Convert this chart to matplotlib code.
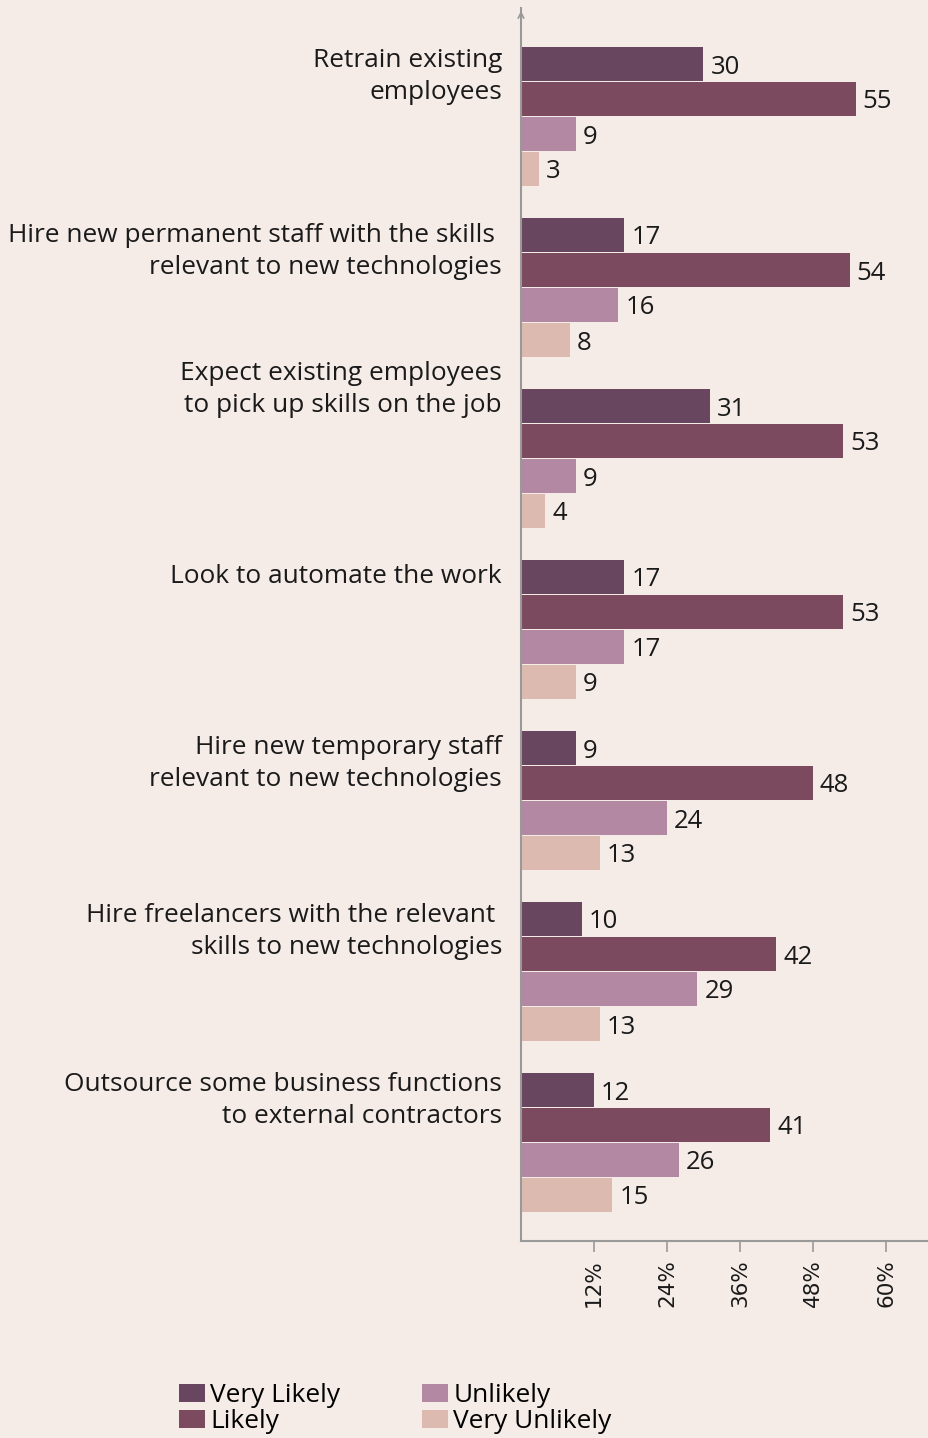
import matplotlib
matplotlib.use("Agg")
import matplotlib.pyplot as plt
import numpy as np
from matplotlib.patches import Patch

categories = [
    "Retrain existing\nemployees",
    "Hire new permanent staff with the skills \nrelevant to new technologies",
    "Expect existing employees\nto pick up skills on the job",
    "Look to automate the work",
    "Hire new temporary staff\nrelevant to new technologies",
    "Hire freelancers with the relevant \nskills to new technologies",
    "Outsource some business functions\nto external contractors",
]
series_names = ["Very Likely", "Likely", "Unlikely", "Very Unlikely"]
very_likely = [30, 17, 31, 17, 9, 10, 12]
likely = [55, 54, 53, 53, 48, 42, 41]
unlikely = [9, 16, 9, 17, 24, 29, 26]
very_unlikely = [3, 8, 4, 9, 13, 13, 15]
xticks = [12, 24, 36, 48, 60]
xtick_labels = ["12%", "24%", "36%", "48%", "60%"]

colors = ["#68465f", "#7b4a5f", "#b388a2", "#dcbab0"]
bg = "#f5ece8"
LABEL_FONT = ["Open Sans", "DejaVu Sans"]
TXT = "#1a1a1a"

W, H = 929, 1438
fig = plt.figure(figsize=(W / 100, H / 100), dpi=100, facecolor=bg)
ax_left, ax_right, ax_top, ax_bot = 521, 929, 8, 1241
ax = fig.add_axes([ax_left / W, (H - ax_bot) / H, (ax_right - ax_left) / W, (ax_bot - ax_top) / H])
ax.set_facecolor(bg)

px_per_pct = 73 / 12.0
ax.set_xlim(0, (ax_right - ax_left) / px_per_pct)
unit = 35.0
ax.set_ylim(ax_bot / unit, ax_top / unit)

series = [very_likely, likely, unlikely, very_unlikely]
n = len(categories)
group_first = (64 + 171 * np.arange(n)) / unit
for j, (vals, col, name) in enumerate(zip(series, colors, series_names)):
    ys = group_first + j * 1.0
    ax.barh(ys, vals, height=34 / unit, color=col, label=name)
    for y, v in zip(ys, vals):
        ax.annotate(str(v), (v, y), xytext=(7, -3), textcoords="offset pixels",
                    va="center", ha="left", fontsize=18.5, color=TXT,
                    family=LABEL_FONT)

# category labels, one text per line
line_shift = [-0.1, 0, -33 / unit, 0, 0, -0.1, -0.15]
line_gap = 32 / unit
trans = ax.get_yaxis_transform()
for i, cat in enumerate(categories):
    base = group_first[i] + line_shift[i]
    for k, line in enumerate(cat.split("\n")):
        ax.text(-19 / (ax_right - ax_left), base + k * line_gap, line, transform=trans,
                ha="right", va="center", fontsize=18.9, color=TXT, family=LABEL_FONT)

ax.set_yticks([])
ax.set_xticks(xticks)
ax.set_xticklabels(xtick_labels, rotation=90, fontsize=15.5, color=TXT)
ax.tick_params(axis="x", length=8, color="#999999", width=1.2, pad=5)
for s in ["top", "right"]:
    ax.spines[s].set_visible(False)
for s in ["left", "bottom"]:
    ax.spines[s].set_color("#999999")
    ax.spines[s].set_linewidth(1.5)

# arrow head
ax.annotate("", xy=(0, 1.0), xytext=(0, 0.985), xycoords="axes fraction",
            arrowprops=dict(arrowstyle="->", color="#999999", lw=1.2))

handles = [Patch(facecolor=c, label=nm) for c, nm in zip(colors, series_names)]
fig.legend(handles=handles, ncol=2, loc="upper left", bbox_to_anchor=(179 / W, 1 - 1383 / H),
           frameon=False, prop={"family": LABEL_FONT, "size": 18.9},
           handlelength=1.0, handleheight=0.7, handletextpad=0.2, columnspacing=3.1,
           labelspacing=0.05, borderpad=0, borderaxespad=0)

fig.savefig("out.png", dpi=100, facecolor=bg)
